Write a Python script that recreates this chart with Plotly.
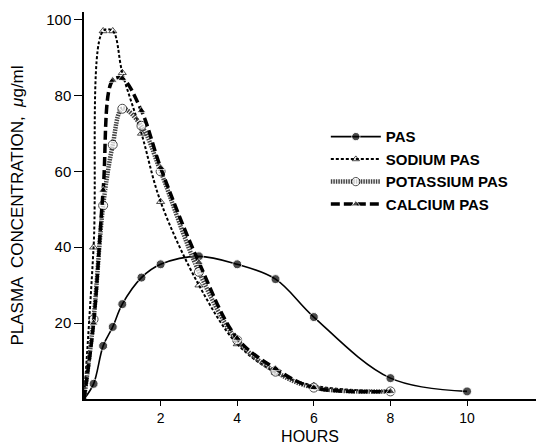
import plotly.graph_objects as go

# Hours
pas_x = [0, 0.25, 0.5, 0.75, 1.0, 1.5, 2, 3, 4, 5, 6, 8, 10]
pas_y = [0, 4, 14, 19, 25, 32, 35.5, 37.6, 35.5, 31.6, 21.6, 5.5, 2]

sod_x = [0, 0.25, 0.5, 0.75, 1.0, 1.5, 2, 3, 4, 5, 6, 8]
sod_y = [0, 40, 97, 97, 86, 70, 52, 30, 14.5, 7, 3.5, 2]

pot_x = [0, 0.25, 0.5, 0.75, 1.0, 1.5, 2, 3, 4, 5, 6, 8]
pot_y = [0, 21, 51, 67, 76.5, 72, 60, 33.5, 15.5, 7.2, 3, 2]

cal_x = [0, 0.25, 0.5, 0.75, 1.0, 1.5, 2, 3, 4, 5, 6, 8]
cal_y = [0, 20, 55, 84, 84.5, 76, 61, 36, 16, 8, 3, 2]

x_ticks = [2, 4, 6, 8, 10]
y_ticks = [20, 40, 60, 80, 100]

FONT = "Liberation Sans, Arial, sans-serif"


def sizes(xs, s):
    return [0 if v == 0 else s for v in xs]


fig = go.Figure()
fig.add_trace(go.Scatter(
    x=pas_x, y=pas_y, name="PAS", mode="lines+markers", line_shape="spline",
    line=dict(color="black", width=1.6),
    marker=dict(symbol="circle", size=sizes(pas_x, 9), color="black")))
fig.add_trace(go.Scatter(
    x=sod_x, y=sod_y, name="SODIUM PAS", mode="lines+markers", line_shape="spline",
    line=dict(color="black", width=2, dash="3px,2px"),
    marker=dict(symbol="triangle-up-open", size=sizes(sod_x, 7), color="black",
                line=dict(width=1))))
fig.add_trace(go.Scatter(
    x=pot_x, y=pot_y, name="POTASSIUM PAS", mode="lines+markers", line_shape="spline",
    line=dict(color="#444", width=4.5, dash="1.5px,1px"),
    marker=dict(symbol="circle", size=sizes(pot_x, 9), color="white",
                line=dict(color="black", width=1))))
fig.add_trace(go.Scatter(
    x=cal_x, y=cal_y, name="CALCIUM PAS", mode="lines+markers", line_shape="spline",
    line=dict(color="black", width=3.5, dash="9px,4px"),
    marker=dict(symbol="triangle-up", size=sizes(cal_x, 8), color="black")))

fig.update_layout(
    width=536, height=448,
    margin=dict(l=84, r=0, t=12, b=49),
    paper_bgcolor="white", plot_bgcolor="white",
    font=dict(family=FONT, color="black", size=14),
    legend=dict(x=0.535, y=0.72, xanchor="left", yanchor="top",
                bgcolor="rgba(0,0,0,0)",
                font=dict(size=15, weight="bold"),
                itemwidth=50, tracegroupgap=0),
    xaxis=dict(range=[0, 11.8], tickvals=x_ticks, showgrid=False, zeroline=False,
               showline=True, linecolor="black", linewidth=1.5,
               ticks="outside", ticklen=5, tickcolor="black",
               tickfont=dict(size=14),
               title=dict(text="HOURS", font=dict(size=16), standoff=6)),
    yaxis=dict(range=[0, 102], tickvals=y_ticks, showgrid=False, zeroline=False,
               showline=True, linecolor="black", linewidth=1.5,
               ticks="outside", ticklen=8, tickcolor="black",
               tickfont=dict(size=15),
               title=dict(text="PLASMA  CONCENTRATION,  <i>μ</i>g/ml",
                          font=dict(size=17), standoff=18)),
)

fig.write_html("out.html")
